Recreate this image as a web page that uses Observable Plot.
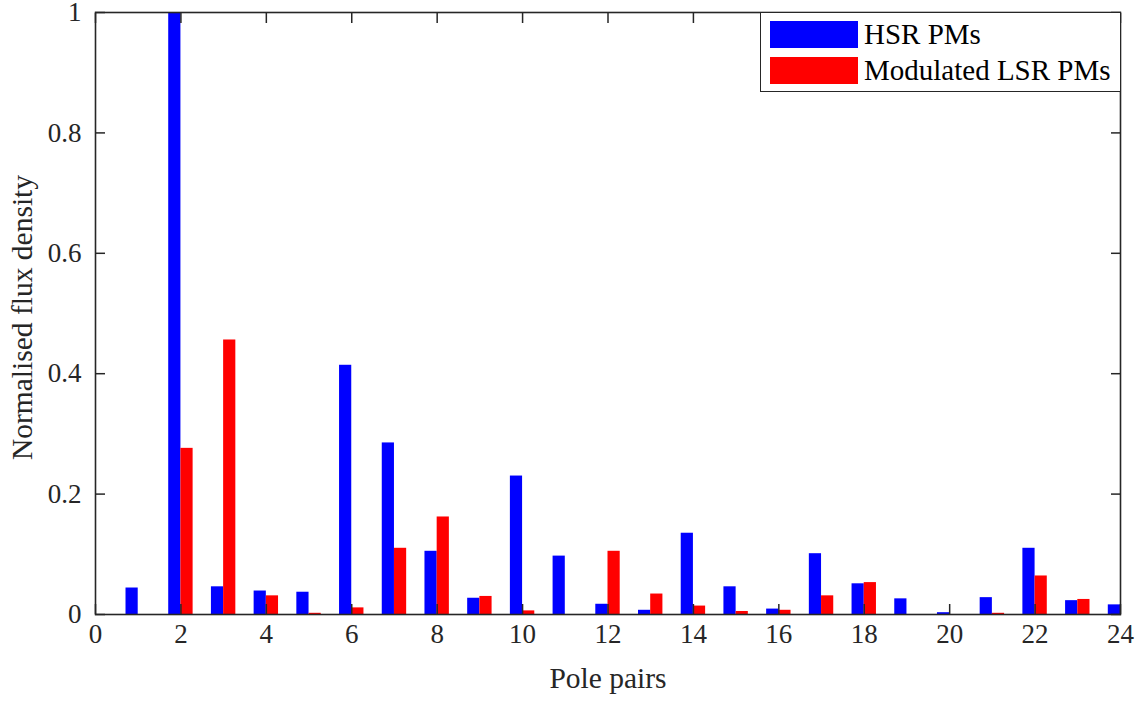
<!DOCTYPE html>
<html>
<head>
<meta charset="utf-8">
<script src="https://cdn.jsdelivr.net/npm/d3@7"></script>
<script src="https://cdn.jsdelivr.net/npm/@observablehq/plot@0.6"></script>
<style>
  html, body { margin: 0; padding: 0; background: #fff; }
  #wrap { position: relative; width: 1140px; height: 704px; font-family: "Liberation Serif", "Times New Roman", serif; }
  #legend { position: absolute; left: 760px; top: 12px; width: 359px; height: 78px; border: 1.5px solid #262626; background: #fff; box-sizing: content-box; }
  .row { position: absolute; left: 9px; height: 27px; display: flex; align-items: center; }
  .sw { width: 88px; height: 27px; flex: none; }
  .lab { margin-left: 6px; font-size: 29px; color: #000; white-space: nowrap; line-height: 27px; }
</style>
</head>
<body>
<div id="wrap"><div id="legend"></div></div>
<script>
const poles = [1,2,3,4,5,6,7,8,9,10,11,12,13,14,15,16,17,18,19,20,21,22,23,24];
const hsrPMs = [0.044,1.0,0.046,0.039,0.037,0.414,0.285,0.105,0.027,0.230,0.097,0.017,0.007,0.135,0.046,0.009,0.101,0.051,0.026,0.003,0.028,0.110,0.023,0.016];
const lsrPMs = [0,0.276,0.456,0.031,0.002,0.011,0.110,0.162,0.030,0.006,0,0.105,0.034,0.014,0.005,0.007,0.031,0.053,0,0,0.002,0.064,0.025,0];
const seriesNames = ["HSR PMs", "Modulated LSR PMs"];
const seriesColors = ["#0000ff", "#ff0000"];
const xTicks = [0,2,4,6,8,10,12,14,16,18,20,22,24];
const yTicks = [0,0.2,0.4,0.6,0.8,1];
const xLabel = "Pole pairs";
const yLabel = "Normalised flux density";

const barW = 0.2857;
const rows = [];
poles.forEach((p, i) => {
  rows.push({pole: p, series: seriesNames[0], value: hsrPMs[i], x1: p - barW, x2: p});
  rows.push({pole: p, series: seriesNames[1], value: lsrPMs[i], x1: p, x2: p + barW});
});

const fs = 27;
const lfs = 29.5;
const ink = "#262626";
const chart = Plot.plot({
  width: 1140,
  height: 704,
  marginLeft: 95,
  marginRight: 20,
  marginTop: 12,
  marginBottom: 90,
  style: {fontFamily: "'Liberation Serif', 'Times New Roman', serif", fontSize: fs + "px", color: ink, background: "#fff", overflow: "visible"},
  x: {domain: [0, 24]},
  y: {domain: [0, 1]},
  color: {domain: seriesNames, range: seriesColors},
  marks: [
    Plot.rect(rows, {x1: "x1", x2: "x2", y1: 0, y2: "value", fill: "series", clip: true}),
    Plot.frame({stroke: ink, strokeWidth: 1.6}),
    Plot.axisX({ticks: xTicks, anchor: "bottom", tickSize: -10, tickFormat: () => "", label: null, stroke: ink, strokeWidth: 1.5}),
    Plot.axisX({ticks: xTicks, anchor: "top", tickSize: -10, tickFormat: () => "", label: null, stroke: ink, strokeWidth: 1.5}),
    Plot.axisY({ticks: yTicks, anchor: "left", tickSize: -10, tickFormat: () => "", label: null, stroke: ink, strokeWidth: 1.5}),
    Plot.axisY({ticks: yTicks, anchor: "right", tickSize: -10, tickFormat: () => "", label: null, stroke: ink, strokeWidth: 1.5}),
    Plot.axisX({ticks: xTicks, anchor: "bottom", tickSize: 0, tickPadding: 9, tickFormat: d => String(d), label: null, fill: ink, fontSize: fs}),
    Plot.axisY({ticks: yTicks, anchor: "left", tickSize: 0, tickPadding: 14, tickFormat: d => String(d), label: null, fill: ink, fontSize: fs}),
    Plot.text([xLabel], {frameAnchor: "bottom", dy: 73, text: d => d, fill: ink, fontSize: lfs}),
    Plot.text([yLabel], {frameAnchor: "left", textAnchor: "middle", dx: -73, dy: 4, rotate: -90, text: d => d, fill: ink, fontSize: lfs})
  ]
});
document.getElementById("wrap").insertBefore(chart, document.getElementById("legend"));
chart.style.position = "absolute";
chart.style.left = "0px";
chart.style.top = "0px";

const legend = document.getElementById("legend");
seriesNames.forEach((name, i) => {
  const row = document.createElement("div");
  row.className = "row";
  row.style.top = (i === 0 ? 8 : 44) + "px";
  const sw = document.createElement("div");
  sw.className = "sw";
  sw.style.background = seriesColors[i];
  const lab = document.createElement("span");
  lab.className = "lab";
  lab.textContent = name;
  row.appendChild(sw);
  row.appendChild(lab);
  legend.appendChild(row);
});
</script>
</body>
</html>
